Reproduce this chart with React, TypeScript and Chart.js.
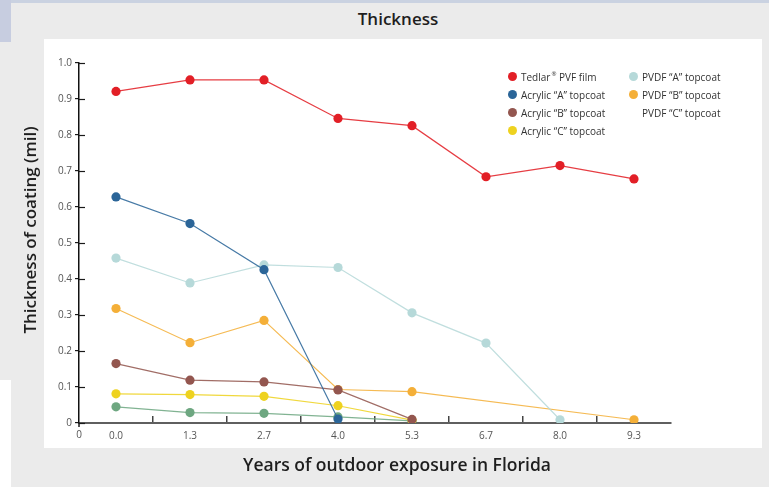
import React, { useEffect, useRef } from 'react';
import { Chart, registerables } from 'chart.js';

Chart.register(...registerables);

// ---------- data ----------
const years = ['0.0', '1.3', '2.7', '4.0', '5.3', '6.7', '8.0', '9.3'];
const originLabel = '0';
const yTickValues = [0, 0.1, 0.2, 0.3, 0.4, 0.5, 0.6, 0.7, 0.8, 0.9, 1.0];

const seriesNames = [
  'Tedlar® PVF film',
  'Acrylic “A” topcoat',
  'Acrylic “B” topcoat',
  'Acrylic “C” topcoat',
  'PVDF “A” topcoat',
  'PVDF “B” topcoat',
  'PVDF “C” topcoat',
];

const tedlar = [0.921, 0.953, 0.953, 0.846, 0.826, 0.684, 0.715, 0.678];
const acrylicA = [0.628, 0.554, 0.426, 0.011, null, null, null, null];
const acrylicB = [0.165, 0.119, 0.114, 0.092, 0.010, null, null, null];
const acrylicC = [0.081, 0.079, 0.074, 0.048, 0.008, null, null, null];
const pvdfA = [0.458, 0.389, 0.439, 0.432, 0.306, 0.222, 0.009, null];
const pvdfB = [0.318, 0.223, 0.285, 0.093, 0.087, null, null, 0.009];
const pvdfC = [0.045, 0.029, 0.027, 0.017, 0.006, null, null, null];

const seriesValues = [tedlar, acrylicA, acrylicB, acrylicC, pvdfA, pvdfB, pvdfC];
const seriesColors = ['#e21f26', '#2b6598', '#93564f', '#eed21f', '#b6d9d9', '#f4af38', '#6ea781'];
const legendWithoutMarker = 'PVDF “C” topcoat';

const FONT = '"Open Sans", "DejaVu Sans", sans-serif';
const TICK_SIZE = 10;

const axisExtras = {
  id: 'axisExtras',
  afterDraw(chart: any) {
    const { ctx } = chart;
    const x = chart.scales.x;
    const y = chart.scales.y;
    ctx.save();
    ctx.strokeStyle = '#1a1a1a';
    ctx.lineWidth = 1.2;
    y.ticks.forEach((t: any) => {
      const py = Math.round(y.getPixelForValue(t.value)) + 0.5;
      ctx.beginPath();
      ctx.moveTo(x.left, py);
      ctx.lineTo(x.left + 6, py);
      ctx.stroke();
    });
    ctx.lineWidth = 1.5;
    ctx.beginPath();
    ctx.moveTo(x.left, y.bottom);
    ctx.lineTo(x.left, y.bottom + 4);
    ctx.stroke();
    ctx.fillStyle = '#555';
    ctx.font = TICK_SIZE + 'px ' + FONT;
    ctx.textAlign = 'center';
    ctx.textBaseline = 'top';
    ctx.fillText(originLabel, x.left, x.top + 7);
    ctx.restore();
  },
};

function renderName(name: string) {
  const parts = name.split('®');
  if (parts.length === 1) return name;
  return (
    <>
      {parts[0]}
      <sup style={{ fontSize: 6, verticalAlign: 'top', lineHeight: '12px', marginLeft: 1 }}>®</sup>
      {parts[1]}
    </>
  );
}

export default function App() {
  const canvasRef = useRef<HTMLCanvasElement | null>(null);

  useEffect(() => {
    const canvas = canvasRef.current;
    if (!canvas) return;
    Chart.defaults.font.family = FONT;
    const chart = new Chart(canvas, {
      type: 'line',
      data: {
        labels: years,
        datasets: seriesNames.map((name, i) => ({
          label: name,
          data: seriesValues[i],
          borderColor: seriesColors[i] + 'dd',
          backgroundColor: seriesColors[i],
          pointBackgroundColor: seriesColors[i],
          pointBorderColor: seriesColors[i],
          pointBorderWidth: 0,
          pointRadius: 4.6,
          borderWidth: 1.2,
          tension: 0,
          spanGaps: true,
          fill: false,
        })),
      },
      options: {
        animation: false,
        responsive: false,
        maintainAspectRatio: false,
        events: [],
        layout: { padding: { left: 40, right: 98, top: 63, bottom: 40 } },
        plugins: {
          legend: { display: false },
          title: { display: false },
          tooltip: { enabled: false },
        },
        scales: {
          x: {
            type: 'category',
            offset: true,
            grid: {
              offset: true,
              drawOnChartArea: false,
              drawTicks: true,
              tickLength: -7,
              lineWidth: 1.5,
              color: (c: any) => (c.type === 'tick' && c.index > 0 ? '#444' : 'rgba(0,0,0,0)'),
            },
            border: { display: true, color: '#5f5f5f', width: 2 },
            ticks: {
              padding: 14,
              color: '#555',
              font: { family: FONT, size: TICK_SIZE },
              maxRotation: 0,
              autoSkip: false,
            },
            afterFit: (s: any) => {
              s.height = 24;
            },
          },
          y: {
            min: 0,
            max: 1,
            afterBuildTicks: (s: any) => {
              s.ticks = yTickValues.map((v) => ({ value: v }));
            },
            grid: {
              drawOnChartArea: false,
              drawTicks: true,
              tickLength: 4,
              lineWidth: 1.2,
              color: '#1a1a1a',
            },
            border: { display: true, color: '#111', width: 1.5 },
            ticks: {
              padding: 3,
              color: '#555',
              font: { family: FONT, size: TICK_SIZE },
              callback: (v: any) => (Number(v) === 0 ? '0' : Number(v).toFixed(1)),
            },
            afterFit: (s: any) => {
              s.width = 39;
            },
          },
        },
      },
      plugins: [axisExtras],
    } as any);
    return () => chart.destroy();
  }, []);

  const legendCols = [seriesNames.slice(0, 4), seriesNames.slice(4)];
  const colX = [513, 634];

  return (
    <div
      style={{
        position: 'absolute',
        left: 0,
        top: 0,
        width: 769,
        height: 487,
        overflow: 'hidden',
        background: '#ffffff',
        fontFamily: FONT,
      }}
    >
      <div style={{ position: 'absolute', left: 0, top: 0, width: 769, height: 3, background: '#cad2e1' }} />
      <div style={{ position: 'absolute', left: 0, top: 0, width: 11, height: 42, background: '#c7cde0' }} />
      <div style={{ position: 'absolute', left: 0, top: 42, width: 11, height: 338, background: '#ebebeb' }} />
      <div style={{ position: 'absolute', left: 11, top: 3, width: 758, height: 484, background: '#ebebeb' }} />
      <div style={{ position: 'absolute', left: 44, top: 39, width: 718, height: 409, background: '#ffffff' }} />

      <div
        style={{
          position: 'absolute',
          left: 398,
          top: 9,
          transform: 'translateX(-50%)',
          fontSize: 17,
          fontWeight: 600,
          lineHeight: '20px',
          color: '#1e1e1e',
          whiteSpace: 'nowrap',
        }}
      >
        Thickness
      </div>

      <canvas
        ref={canvasRef}
        width={769}
        height={487}
        style={{ position: 'absolute', left: 0, top: 0, width: 769, height: 487 }}
      />

      <div
        style={{
          position: 'absolute',
          left: 397,
          top: 454,
          transform: 'translateX(-50%)',
          fontSize: 17.5,
          fontWeight: 600,
          lineHeight: '20px',
          color: '#1e1e1e',
          whiteSpace: 'nowrap',
        }}
      >
        Years of outdoor exposure in Florida
      </div>

      <div
        style={{
          position: 'absolute',
          left: 30 - 150,
          top: 230 - 10,
          width: 300,
          height: 20,
          lineHeight: '20px',
          textAlign: 'center',
          transform: 'rotate(-90deg)',
          fontSize: 17,
          fontWeight: 600,
          color: '#1e1e1e',
          whiteSpace: 'nowrap',
        }}
      >
        Thickness of coating (mil)
      </div>

      {legendCols.map((col, c) =>
        col.map((name, r) => {
          const idx = seriesNames.indexOf(name);
          const cy = 76.7 + 18 * r;
          return (
            <div
              key={name}
              style={{
                position: 'absolute',
                left: colX[c] - 5,
                top: cy - 9,
                height: 18,
                display: 'flex',
                alignItems: 'center',
                whiteSpace: 'nowrap',
                fontSize: 10,
                color: '#333',
              }}
            >
              <span
                style={{
                  display: 'inline-block',
                  width: 9,
                  height: 9,
                  borderRadius: '50%',
                  background: name === legendWithoutMarker ? 'transparent' : seriesColors[idx],
                  marginRight: 4,
                }}
              />
              <span style={{ lineHeight: '18px' }}>{renderName(name)}</span>
            </div>
          );
        })
      )}
    </div>
  );
}
